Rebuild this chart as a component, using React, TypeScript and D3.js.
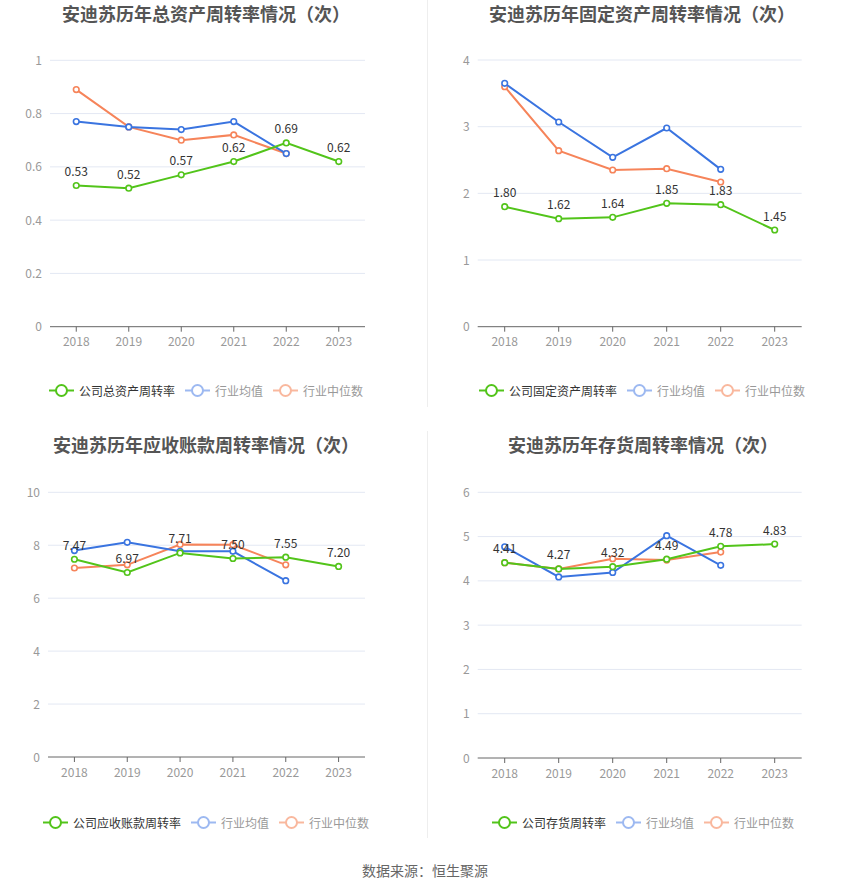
import React from "react";
import * as d3 from "d3";

const years = ["2018", "2019", "2020", "2021", "2022", "2023"];

const titles = [
  "安迪苏历年总资产周转率情况（次）",
  "安迪苏历年固定资产周转率情况（次）",
  "安迪苏历年应收账款周转率情况（次）",
  "安迪苏历年存货周转率情况（次）",
];
const companyNames = ["公司总资产周转率", "公司固定资产周转率", "公司应收账款周转率", "公司存货周转率"];

// 总资产周转率
const totalCompany = [0.53, 0.52, 0.57, 0.62, 0.69, 0.62];
const totalAvg = [0.77, 0.75, 0.74, 0.77, 0.65];
const totalMedian = [0.89, 0.75, 0.7, 0.72, 0.65];
const totalTicks = [0, 0.2, 0.4, 0.6, 0.8, 1];

// 固定资产周转率
const fixedCompany = [1.8, 1.62, 1.64, 1.85, 1.83, 1.45];
const fixedAvg = [3.65, 3.07, 2.54, 2.98, 2.36];
const fixedMedian = [3.6, 2.64, 2.35, 2.37, 2.17];
const fixedTicks = [0, 1, 2, 3, 4];

// 应收账款周转率
const arCompany = [7.47, 6.97, 7.71, 7.5, 7.55, 7.2];
const arAvg = [7.8, 8.11, 7.77, 7.77, 6.66];
const arMedian = [7.14, 7.26, 8.03, 8.02, 7.26];
const arTicks = [0, 2, 4, 6, 8, 10];

// 存货周转率
const invCompany = [4.41, 4.27, 4.32, 4.49, 4.78, 4.83];
const invAvg = [4.77, 4.09, 4.19, 5.02, 4.35];
const invMedian = [4.41, 4.27, 4.5, 4.47, 4.65];
const invTicks = [0, 1, 2, 3, 4, 5, 6];

const GREEN = "#52c41a";
const BLUE = "#3a74e0";
const ORANGE = "#f6845a";
const FONT = "'Noto Sans CJK SC', 'Noto Sans', sans-serif";

type PanelProps = {
  title: string;
  companyName: string;
  company: number[];
  avg: number[];
  median: number[];
  ticks: number[];
  left: number;
  right: number;
  top: number;
  bottom: number;
  center: number;
  titleY: number;
  legendY: number;
};

function Panel(p: PanelProps) {
  const x = d3.scalePoint<string>().domain(years).range([p.left, p.right]).padding(0.5);
  const y = d3
    .scaleLinear()
    .domain([0, p.ticks[p.ticks.length - 1]])
    .range([p.bottom, p.top]);
  const line = d3
    .line<number>()
    .x((_, i) => x(years[i]) as number)
    .y((d) => y(d));

  const series = [
    { data: p.median, color: ORANGE },
    { data: p.avg, color: BLUE },
    { data: p.company, color: GREEN },
  ];

  const legendItems = [
    { name: p.companyName, color: GREEN, text: "#333", icon: GREEN },
    { name: "行业均值", color: BLUE, text: "#999", icon: "#9db9f1" },
    { name: "行业中位数", color: ORANGE, text: "#999", icon: "#f9b89e" },
  ];
  const widths = legendItems.map((it) => 25 + 5 + it.name.length * 12);
  const total = widths.reduce((a, b) => a + b, 0) + 10 * (legendItems.length - 1);
  let lx = p.center - total / 2;
  const legendPos = widths.map((w) => {
    const s = lx;
    lx += w + 10;
    return s;
  });

  return (
    <g>
      <text
        x={p.center}
        y={p.titleY}
        textAnchor="middle"
        dominantBaseline="central"
        fontSize={18}
        fontWeight="bold"
        fill="#555"
        fontFamily={FONT}
      >
        {p.title}
      </text>
      {p.ticks.map((t) => (
        <g key={t}>
          {t !== 0 && (
            <line x1={p.left} x2={p.right} y1={y(t)} y2={y(t)} stroke="#e3e8f3" strokeWidth={1} />
          )}
          <text
            x={p.left - 8}
            y={y(t) - 1}
            textAnchor="end"
            dominantBaseline="central"
            fontSize={12}
            fill="#999"
            fontFamily={FONT}
          >
            {d3.format("~g")(t)}
          </text>
        </g>
      ))}
      <line x1={p.left} x2={p.right} y1={p.bottom} y2={p.bottom} stroke="#666" strokeWidth={1} />
      {years.map((yr) => (
        <g key={yr}>
          <line x1={x(yr)} x2={x(yr)} y1={p.bottom} y2={p.bottom + 5} stroke="#666" />
          <text
            x={x(yr)}
            y={p.bottom + 14}
            textAnchor="middle"
            dominantBaseline="central"
            fontSize={12}
            fill="#999"
            fontFamily={FONT}
          >
            {yr}
          </text>
        </g>
      ))}
      {series.map((s, si) => (
        <g key={si}>
          <path d={line(s.data) || ""} fill="none" stroke={s.color} strokeWidth={2} />
          {s.data.map((d, i) => (
            <circle
              key={i}
              cx={x(years[i])}
              cy={y(d)}
              r={2.8}
              fill="#fff"
              stroke={s.color}
              strokeWidth={1.6}
            />
          ))}
        </g>
      ))}
      {p.company.map((d, i) => (
        <text
          key={i}
          x={x(years[i])}
          y={y(d) - 15}
          textAnchor="middle"
          dominantBaseline="central"
          fontSize={12}
          fill="#333"
          fontFamily={FONT}
        >
          {d.toFixed(2)}
        </text>
      ))}
      {legendItems.map((it, i) => (
        <g key={it.name} transform={`translate(${legendPos[i]},${p.legendY})`}>
          <line x1={0} x2={25} y1={0} y2={0} stroke={it.icon} strokeWidth={2} />
          <circle cx={12.5} cy={0} r={5.5} fill="#fff" stroke={it.icon} strokeWidth={2} />
          <text
            x={30}
            y={0}
            dominantBaseline="central"
            fontSize={12}
            fill={it.text}
            fontFamily={FONT}
          >
            {it.name}
          </text>
        </g>
      ))}
    </g>
  );
}

export default function App() {
  const W = 850;
  const H = 891;
  return (
    <svg
      width={W}
      height={H}
      style={{ position: "absolute", left: 0, top: 0, background: "#fff" }}
    >
      <rect width={W} height={H} fill="#fff" />
      <line x1={427.5} x2={427.5} y1={0} y2={407} stroke="#eee" />
      <line x1={427.5} x2={427.5} y1={431} y2={838} stroke="#eee" />
      <Panel
        title={titles[0]}
        companyName={companyNames[0]}
        company={totalCompany}
        avg={totalAvg}
        median={totalMedian}
        ticks={totalTicks}
        left={50}
        right={365}
        top={60.3}
        bottom={326.7}
        center={206}
        titleY={12.5}
        legendY={390.5}
      />
      <Panel
        title={titles[1]}
        companyName={companyNames[1]}
        company={fixedCompany}
        avg={fixedAvg}
        median={fixedMedian}
        ticks={fixedTicks}
        left={477.7}
        right={801.7}
        top={60}
        bottom={326.7}
        center={642}
        titleY={12.5}
        legendY={390.5}
      />
      <Panel
        title={titles[2]}
        companyName={companyNames[2]}
        company={arCompany}
        avg={arAvg}
        median={arMedian}
        ticks={arTicks}
        left={48}
        right={365}
        top={492.3}
        bottom={757}
        center={206}
        titleY={444}
        legendY={822.5}
      />
      <Panel
        title={titles[3]}
        companyName={companyNames[3]}
        company={invCompany}
        avg={invAvg}
        median={invMedian}
        ticks={invTicks}
        left={477.7}
        right={801.7}
        top={492.3}
        bottom={758}
        center={643}
        titleY={444}
        legendY={822.5}
      />
      <text
        x={425}
        y={869.5}
        textAnchor="middle"
        dominantBaseline="central"
        fontSize={14}
        fill="#666"
        fontFamily={FONT}
      >
        数据来源：恒生聚源
      </text>
    </svg>
  );
}
